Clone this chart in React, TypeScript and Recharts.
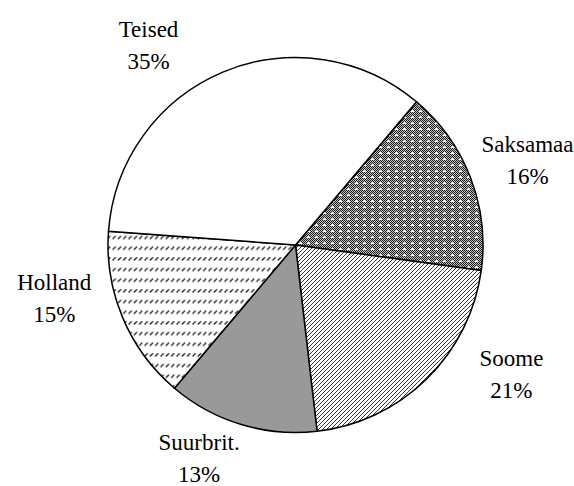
import { Pie, PieChart, Cell } from 'recharts';

// slice order runs clockwise from the Teised/Saksamaa edge
const countries = ['Saksamaa', 'Soome', 'Suurbrit.', 'Holland', 'Teised'];
const shares = [16, 21, 13, 15, 35];
const shareLabels = ['16%', '21%', '13%', '15%', '35%'];

const fills = ['url(#dots)', 'url(#diag)', '#999999', 'url(#dash)', '#ffffff'];
// label nudges (px) away from the plain radial spot
const labelShift = [
  [8, 2],
  [48, -42],
  [-27, -16],
  [-20, -40],
  [-54, 22],
];

const RAD = Math.PI / 180;
const FONT = 'Liberation Serif, serif';

function renderLabel(props: any) {
  const { cx, cy, midAngle, outerRadius, index } = props;
  const r = outerRadius + 52.5;
  const x = cx + r * Math.cos(-midAngle * RAD) + labelShift[index][0];
  const y = cy + r * Math.sin(-midAngle * RAD) + labelShift[index][1];
  const textStyle = { fontFamily: FONT, fontSize: 23, fill: '#000' };
  return (
    <g>
      <text x={x} y={y - 8.5} textAnchor="middle" style={textStyle}>
        {countries[index]}
      </text>
      <text x={x} y={y + 23.5} textAnchor="middle" style={textStyle}>
        {shareLabels[index]}
      </text>
    </g>
  );
}

export default function App() {
  const data = countries.map((name, i) => ({ name, value: shares[i] }));

  return (
    <div style={{ position: 'absolute', left: 0, top: 0, width: 574, height: 486, background: '#fff' }}>
      <PieChart width={574} height={486}>
        <defs>
          <pattern id="checker" width="2" height="2" patternUnits="userSpaceOnUse">
            <rect width="2" height="2" fill="#c4c4c4" />
            <rect width="1" height="1" fill="#1a1a1a" />
            <rect x="1" y="1" width="1" height="1" fill="#1a1a1a" />
          </pattern>
          <pattern id="dots" width="8" height="6" patternUnits="userSpaceOnUse">
            <rect width="8" height="6" fill="url(#checker)" />
            <rect x="4" y="2" width="1" height="2" fill="#fff" />
            <rect x="3" y="3" width="3" height="1" fill="#fff" />
          </pattern>
          <pattern id="diag" width="4" height="4" patternUnits="userSpaceOnUse">
            <rect width="4" height="4" fill="#fff" />
            <path d="M-1,1 L1,-1 M0,4 L4,0 M3,5 L5,3" stroke="#222" strokeWidth="0.9" />
          </pattern>
          <pattern id="dash" width="5.33" height="10.67" patternUnits="userSpaceOnUse">
            <rect width="5.33" height="10.67" fill="#fff" />
            <path d="M0.6,4.4 L3.8,1.2" stroke="#222" strokeWidth="1.3" />
          </pattern>
        </defs>
        <Pie
          data={data}
          dataKey="value"
          nameKey="name"
          cx={290.5}
          cy={240}
          outerRadius={187.5}
          startAngle={49.8}
          endAngle={-310.2}
          stroke="#000"
          strokeWidth={1.5}
          label={renderLabel}
          labelLine={false}
          isAnimationActive={false}
        >
          {data.map((d, i) => (
            <Cell key={d.name} fill={fills[i]} />
          ))}
        </Pie>
      </PieChart>
    </div>
  );
}
